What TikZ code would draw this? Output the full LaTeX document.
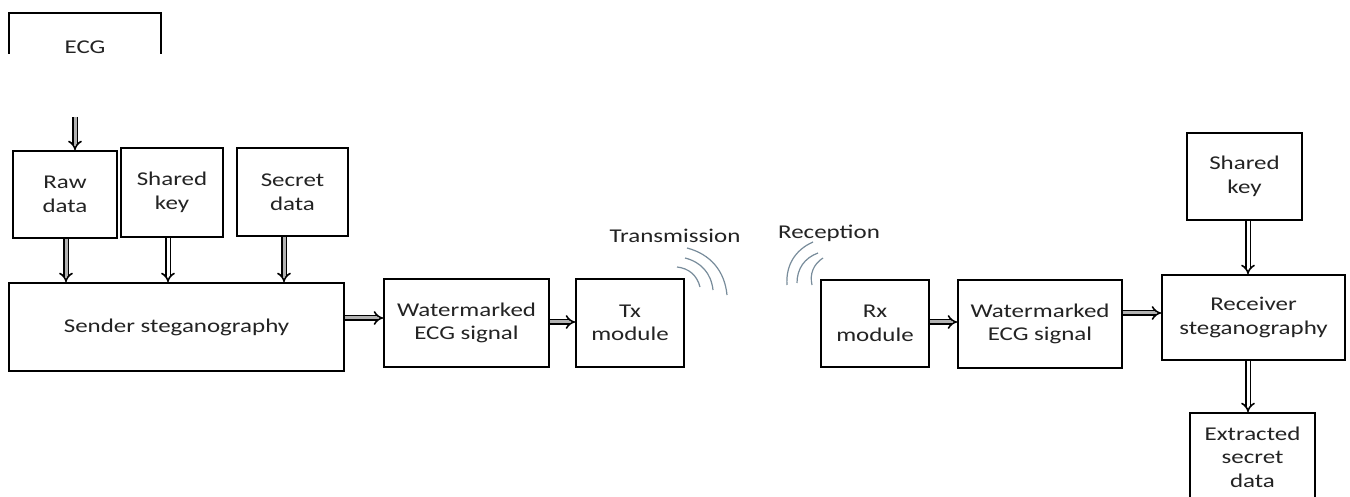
\documentclass[tikz,border=0pt]{standalone}
\usepackage{fontspec}
\setmainfont{Carlito}[FakeStretch=1.28]
\usetikzlibrary{arrows.meta}
\definecolor{wavecol}{RGB}{120,140,155}
\definecolor{txtcol}{RGB}{35,35,35}
\begin{document}
\begin{tikzpicture}[x=1pt,y=1pt,
  box/.style={draw=black, line width=1.8pt, align=center, inner sep=0pt,
    font=\fontsize{19.5}{23.5}\selectfont, text=txtcol},
  dbl/.style={line width=1.6pt, double=gray!60, double distance=3pt, -{Implies}},
  dblw/.style={dbl, double=white},
  wave/.style={draw=wavecol, line width=1.2pt},
  lbl/.style={font=\fontsize{19.5}{23.5}\selectfont, text=txtcol, inner sep=0pt}
]
\clip (0,0) rectangle (1350,496);
\fill[white] (0,0) rectangle (1350,496);

% ECG (cut-off box)
\begin{scope}
\clip (0,442) rectangle (300,496);
\node[box, minimum width=152, minimum height=68] (ecg) at (85,449) {ECG};
\end{scope}
\coordinate (ecgout) at (75,379);

% sender side
\node[box, minimum width=104, minimum height=87] (raw) at (65,301.5) {Raw\\data};
\node[box, minimum width=102, minimum height=89] (skey) at (172,303.5) {Shared\\key};
\node[box, minimum width=111, minimum height=88] (sdata) at (292.5,304) {Secret\\data};
\node[box, minimum width=335, minimum height=88] (sender) at (176.5,169) {Sender steganography};
\node[box, minimum width=165, minimum height=88] (wm1) at (466.5,173) {Watermarked\\ECG signal};
\node[box, minimum width=108, minimum height=88] (tx) at (630,173) {Tx\\module};

% receiver side
\node[box, minimum width=108, minimum height=87] (rx) at (875,172.5) {Rx\\module};
\node[box, minimum width=164, minimum height=88] (wm2) at (1040,172) {Watermarked\\ECG signal};
\node[box, minimum width=183, minimum height=85] (recv) at (1253.5,178.5) {Receiver\\steganography};
\node[box, minimum width=115, minimum height=87] (skey2) at (1244.5,319.5) {Shared\\key};
\node[box, minimum width=125, minimum height=88] (extr) at (1252.5,39) {Extracted\\secret\\data};

% labels
\node[lbl] (txl) at (675,260) {Transmission};
\node[lbl] (rxl) at (829,263) {Reception};

% waves
\coordinate (t1a) at (677,229); \coordinate (t1b) at (700,209);
\coordinate (t2a) at (685,238); \coordinate (t2b) at (713,206);
\coordinate (t3a) at (687,248); \coordinate (t3b) at (727,201);
\draw[wave] (t1a) to[bend left=35] (t1b);
\draw[wave] (t2a) to[bend left=35] (t2b);
\draw[wave] (t3a) to[bend left=35] (t3b);
\coordinate (r1a) at (823,238); \coordinate (r1b) at (812,211);
\coordinate (r2a) at (818,243); \coordinate (r2b) at (797,213);
\coordinate (r3a) at (813,254); \coordinate (r3b) at (787,211);
\draw[wave] (r1a) to[bend right=35] (r1b);
\draw[wave] (r2a) to[bend right=35] (r2b);
\draw[wave] (r3a) to[bend right=35] (r3b);

% arrows
\draw[dbl] (ecgout) -- (ecgout |- raw.north);
\draw[dbl] ([xshift=1pt]raw.south) -- ([xshift=1pt]raw.south |- sender.north);
\draw[dblw] ([xshift=-4pt]skey.south) -- ([xshift=-4pt]skey.south |- sender.north);
\draw[dbl] ([xshift=-8.5pt]sdata.south) -- ([xshift=-8.5pt]sdata.south |- sender.north);
\draw[dbl] ([yshift=9pt]sender.east) -- ([yshift=9pt]sender.east -| wm1.west);
\draw[dbl] ([yshift=1pt]wm1.east) -- ([yshift=1pt]wm1.east -| tx.west);
\draw[dbl] ([yshift=1.5pt]rx.east) -- ([yshift=1.5pt]rx.east -| wm2.west);
\draw[dbl] ([yshift=11pt]wm2.east) -- ([yshift=11pt]wm2.east -| recv.west);
\draw[dblw] ([xshift=3.5pt]skey2.south) -- ([xshift=3.5pt]skey2.south |- recv.north);
\draw[dblw] ([xshift=-5.5pt]recv.south) -- ([xshift=-5.5pt]recv.south |- extr.north);
\end{tikzpicture}
\end{document}
